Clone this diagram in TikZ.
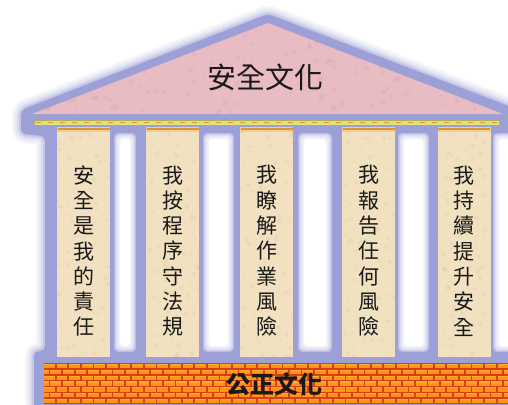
\documentclass[tikz,border=0pt]{standalone}
\usepackage{fontspec}
\newfontfamily\cjk{Noto Sans CJK TC}
\definecolor{hallblue}{RGB}{156,160,215}
\definecolor{roofpink}{RGB}{232,188,194}
\definecolor{roofdark}{RGB}{196,140,150}
\definecolor{parch}{RGB}{241,225,192}
\definecolor{parchdark}{RGB}{200,170,120}
\definecolor{bandyellow}{RGB}{220,228,120}
\definecolor{bandedge}{RGB}{170,175,110}
\definecolor{capitaltan}{RGB}{236,206,150}
\definecolor{capitalorange}{RGB}{226,146,48}
\definecolor{brickorange}{RGB}{255,148,22}
\definecolor{bricklight}{RGB}{255,190,70}
\definecolor{mortar}{RGB}{218,62,24}
\definecolor{inkc}{RGB}{25,25,25}
\tikzset{
  hallshape/.style={insert path={(268,14) -- (514,108) -- (514,410) -- (34,410) -- (34,351) -- (45,351) -- (45,136) -- (21,134) -- (21,110) -- cycle}},
  pillar/.style={draw=none, fill=parch, minimum width=53pt, minimum height=225pt, inner sep=0pt},
  coltext/.style={align=center, inner sep=0pt, text=inkc, font=\cjk\fontsize{21}{25.3}\selectfont},
  bigtext/.style={inner sep=0pt, text=inkc, font=\cjk\fontsize{29}{30}\selectfont},
  basetext/.style={inner sep=0pt, text=inkc, font=\cjk\bfseries\fontsize{24}{26}\selectfont},
}
\begin{document}
\begin{tikzpicture}[x=1pt,y=-1pt]
\path[use as bounding box] (0,0) rectangle (508,404);
\clip (0,0) rectangle (508,404);
\fill[white] (0,0) rectangle (508,404);

% soft blue silhouette of the hall
\foreach \w/\o in {18/0.10, 13/0.14, 8/0.2, 4/0.3}
  \draw[hallblue, opacity=\o, line width=\w pt, line join=round, rounded corners=5pt, hallshape];
\fill[hallblue, rounded corners=5pt, hallshape];

% white openings between the pillars, with soft edges
\foreach \xa/\xb in {118/132, 207/230, 302/328, 402/425, 497/530} {
  \foreach \k in {0,...,5}
    \fill[white, opacity=0.3, rounded corners=4pt] (\xa-4+\k,133+\k) rectangle (\xb+4-\k,352-\k);
  \fill[white, rounded corners=3pt] (\xa+2,139) rectangle (\xb-2,346);
}

% roof
\fill[roofpink] (268,23) -- (503,114) -- (32,114) -- cycle;
\begin{scope}
  \clip (268,23) -- (503,114) -- (32,114) -- cycle;
  \pgfmathsetseed{11}
  \foreach \j in {1,...,260}
    \fill[roofdark, opacity=0.13] ({268+236*rand},{70+45*rand}) circle ({0.8+2.2*rnd});
\end{scope}
\node[bigtext] (roof) at (265,77) {安全文化};

% frieze band
\fill[bandyellow, draw=bandedge, line width=0.5pt] (34,120) rectangle (499,125);
\draw[capitalorange, line width=1.2pt, dash pattern=on 5pt off 7pt] (36,122.5) -- (497,122.5);

% pillars with capitals
\pgfmathsetseed{5}
\foreach \cx [count=\i] in {83.5,172.5,266.5,368.5,464} {
  \fill[capitaltan] (\cx-26.5,127) rectangle (\cx+26.5,131.5);
  \draw[capitalorange, line width=1.6pt] (\cx-26,129.2) -- (\cx+26,129.2);
  \node[pillar] (col\i) at (\cx,244.5) {};
  \begin{scope}
    \clip (col\i.north west) rectangle (col\i.south east);
    \foreach \j in {1,...,110}
      \fill[parchdark, opacity=0.12] ({\cx+27*rand},{244.5+113*rand}) circle ({0.7+1.8*rnd});
  \end{scope}
}

\node[coltext] (t1) at (83.5,251) {安\\全\\是\\我\\的\\責\\任};
\node[coltext] (t2) at (172.5,251) {我\\按\\程\\序\\守\\法\\規};
\node[coltext] (t3) at (266.5,251) {我\\瞭\\解\\作\\業\\風\\險};
\node[coltext] (t4) at (368.5,251) {我\\報\\告\\任\\何\\風\\險};
\node[coltext] (t5) at (464,251) {我\\持\\續\\提\\升\\安\\全};

% brick base
\fill[mortar] (44,363) rectangle (508,404);
\begin{scope}
  \clip (44,363) rectangle (508,404);
  \foreach \r in {0,...,7} {
    \pgfmathsetmacro{\yy}{363.8+\r*5.85}
    \pgfmathsetmacro{\off}{mod(\r,2)*6.3}
    \foreach \b in {0,...,38} {
      \fill[brickorange] ({44+\off-12.6+\b*12.6},\yy) rectangle ({44+\off-12.6+\b*12.6+10.8},\yy+4.3);
      \fill[bricklight, opacity=0.6] ({44+\off-12.6+\b*12.6},\yy) rectangle ({44+\off-12.6+\b*12.6+10.8},\yy+1.2);
    }
  }
\end{scope}
\node[basetext] (base) at (274,384) {公正文化};
\end{tikzpicture}
\end{document}
